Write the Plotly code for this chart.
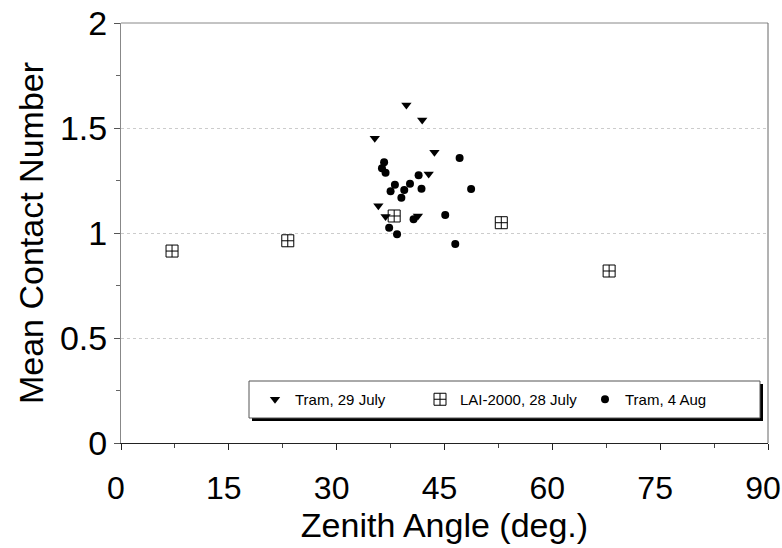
import plotly.graph_objects as go

# ---- data ----
tram_jul_x = [39.7, 41.9, 35.3, 43.6, 42.8, 35.8, 36.8, 41.3]
tram_jul_y = [1.610, 1.538, 1.451, 1.384, 1.281, 1.130, 1.078, 1.081]

lai_x = [7.1, 23.2, 38.0, 52.9, 67.9]
lai_y = [0.914, 0.963, 1.081, 1.049, 0.819]

tram_aug_x = [36.6, 36.3, 36.8, 41.4, 38.1, 40.2, 39.4, 37.5, 41.8, 39.0,
              40.7, 37.3, 38.4, 45.1, 47.1, 48.7, 46.5]
tram_aug_y = [1.337, 1.308, 1.287, 1.275, 1.230, 1.235, 1.205, 1.199, 1.211, 1.168,
              1.065, 1.025, 0.994, 1.086, 1.357, 1.210, 0.948]

x_ticks = [0, 15, 30, 45, 60, 75, 90]
y_ticks = [0, 0.5, 1, 1.5, 2]
y_tick_labels = ["0", "0.5", "1", "1.5", "2"]

FONT = "Liberation Sans, Arial, sans-serif"

fig = go.Figure()
fig.add_trace(go.Scatter(x=tram_jul_x, y=tram_jul_y, mode="markers", name="Tram, 29 July",
                         marker=dict(symbol="triangle-down", size=9, color="black")))
fig.add_trace(go.Scatter(x=lai_x, y=lai_y, mode="markers", name="LAI-2000, 28 July",
                         marker=dict(symbol="square-cross-open", size=12, color="black",
                                     line=dict(width=1, color="black"))))
fig.add_trace(go.Scatter(x=tram_aug_x, y=tram_aug_y, mode="markers", name="Tram, 4 Aug",
                         marker=dict(symbol="circle", size=8, color="black")))

# legend box with shadow (paper coords)
def px2paper_x(px):
    return (px - 121) / 647.0

def px2paper_y(py):
    return (443 - py) / 420.0

fig.add_shape(type="rect", xref="paper", yref="paper",
              x0=px2paper_x(252), x1=px2paper_x(763), y0=px2paper_y(421), y1=px2paper_y(384),
              fillcolor="black", line=dict(width=0), layer="above")
fig.add_shape(type="rect", xref="paper", yref="paper",
              x0=px2paper_x(249), x1=px2paper_x(760), y0=px2paper_y(418), y1=px2paper_y(381),
              fillcolor="white", line=dict(width=1, color="#555"), layer="above")
# top and right frame lines
fig.add_shape(type="line", xref="paper", yref="paper", x0=0, x1=1, y0=1, y1=1,
              line=dict(color="#888", width=1))
fig.add_shape(type="line", xref="paper", yref="paper", x0=1, x1=1, y0=0, y1=1,
              line=dict(color="#666", width=1))

fig.update_layout(
    width=782, height=548,
    margin=dict(l=121, r=14, t=23, b=105, autoexpand=False),
    paper_bgcolor="white", plot_bgcolor="white",
    font=dict(family=FONT, color="black"),
    showlegend=True,
    legend=dict(orientation="h", x=px2paper_x(255), y=px2paper_y(399.5),
                xanchor="left", yanchor="middle",
                bgcolor="rgba(0,0,0,0)", borderwidth=0,
                font=dict(size=15, family=FONT), entrywidth=120, entrywidthmode="pixels"),
    xaxis=dict(range=[0, 90], tickvals=x_ticks, ticktext=[str(v) for v in x_ticks],
               automargin=False,
               showgrid=False, zeroline=False, showline=True, linecolor="#222", linewidth=1,
               ticks="outside", ticklen=6, tickcolor="#222",
               minor=dict(dtick=7.5, ticks="outside", ticklen=4, tickcolor="#444", showgrid=False),
               tickfont=dict(size=32), ticklabelstandoff=11, ticklabelshift=-5,
               ticklabeloverflow="allow",
               title=dict(text="Zenith Angle (deg.)", font=dict(size=34), standoff=2)),
    yaxis=dict(range=[0, 2], tickvals=y_ticks, ticktext=y_tick_labels,
               automargin=False,
               showgrid=True, gridcolor="#ccc", griddash="dot", gridwidth=1,
               zeroline=False, showline=True, linecolor="#888", linewidth=1,
               ticks="outside", ticklen=6, tickcolor="#555",
               minor=dict(dtick=0.25, ticks="outside", ticklen=4, tickcolor="#666", showgrid=False),
               tickfont=dict(size=34), ticklabelstandoff=0, ticklabeloverflow="allow",
               title=dict(text="Mean Contact Number", font=dict(size=34), standoff=6)),
)

fig.write_html("out.html")
